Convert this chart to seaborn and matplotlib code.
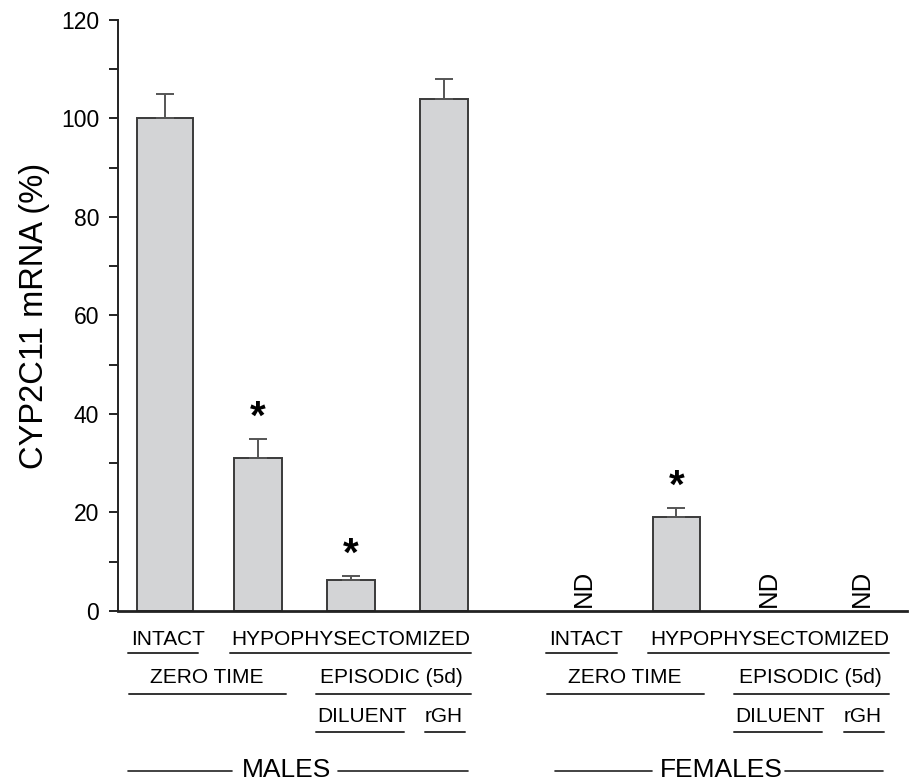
import numpy as np
import pandas as pd
import matplotlib
matplotlib.use('Agg')
import matplotlib.pyplot as plt
import seaborn as sns

# data (ND = not detected -> NaN)
groups = ['MALES', 'FEMALES']
treatments = ['INTACT', 'HYPOX ZERO TIME', 'HYPOX DILUENT', 'HYPOX rGH']
male_values = [100.0, 31.0, 6.2, 104.0]
male_errors = [5.0, 3.9, 1.0, 4.0]
female_values = [np.nan, 19.0, np.nan, np.nan]
female_errors = [np.nan, 2.0, np.nan, np.nan]
male_signif = [False, True, True, False]
female_signif = [False, True, False, False]

sub_labels = ['INTACT', 'HYPOPHYSECTOMIZED', 'ZERO TIME', 'EPISODIC (5d)', 'DILUENT', 'rGH']

sns.set_style('ticks')
plt.rcParams['font.family'] = ['Liberation Sans', 'DejaVu Sans']
plt.rcParams['text.color'] = 'black'
plt.rcParams['axes.labelcolor'] = 'black'
plt.rcParams['ytick.color'] = '#222222'
plt.rcParams['ytick.labelcolor'] = 'black'

# bar positions: 4 bars per sex, 1.5 bar gap between the groups
offsets = [0.0, 4.5]
pos = np.concatenate([np.arange(4) + o for o in offsets])
df = pd.DataFrame({
    'pos': pos,
    'value': male_values + female_values,
    'err': male_errors + female_errors,
    'sig': male_signif + female_signif,
})

fig = plt.figure(figsize=(9.14, 7.81), dpi=100)
ax = fig.add_axes([0.1291, 0.2177, 0.8632, 0.7567])

sns.barplot(data=df.dropna(subset=['value']), x='pos', y='value', native_scale=True,
            width=0.51, color='#d3d4d6', saturation=1, edgecolor='#3a3a3a',
            linewidth=1.4, errorbar=None, ax=ax)
# first bar drawn a bit wider in the original
first = ax.patches[0]
first.set_x(first.get_x() - 0.045)
first.set_width(first.get_width() + 0.09)

d = df.dropna(subset=['value'])
ax.errorbar(d['pos'], d['value'], yerr=[np.zeros(len(d)), d['err']], fmt='none',
            ecolor='#555555', elinewidth=1.4, capsize=6.5, capthick=1.4)

for _, r in df.iterrows():
    if np.isnan(r['value']):
        ax.text(r['pos'], 0.8, 'ND', rotation=90, ha='center', va='bottom', fontsize=18.5)
    elif r['sig']:
        ax.text(r['pos'], r['value'] + r['err'] + 0.4, '*', ha='center', va='bottom',
                fontsize=29, fontweight='bold')

ax.set_xlim(-0.505, 7.98)
ax.set_ylim(0, 120)
ax.set_yticks(np.arange(0, 121, 20))
ax.set_yticks(np.arange(10, 120, 20), minor=True)
ax.set_xticks([])
ax.set_xlabel('')
ax.set_ylabel('CYP2C11 mRNA (%)', fontsize=23.5, labelpad=8)
ax.tick_params(axis='y', which='both', length=6.5, width=1.4, labelsize=16.5, pad=7)
sns.despine(ax=ax)
ax.spines['left'].set_linewidth(1.4)
ax.spines['bottom'].set_linewidth(2.0)
ax.spines['left'].set_color('#222222')
ax.spines['bottom'].set_color('#222222')

# treatment labels below the axis (x relative to group start)
label_layout = [
    # text, text_x, baseline_y, line_x0, line_x1, line_y
    (sub_labels[0], 0.03, -6.9, -0.40, 0.36, -8.6),
    (sub_labels[1], 2.00, -6.9, 0.70, 3.29, -8.6),
    (sub_labels[2], 0.45, -14.7, -0.39, 1.30, -16.9),
    (sub_labels[3], 2.44, -14.7, 1.62, 3.29, -16.9),
    (sub_labels[4], 2.12, -22.5, 1.62, 2.57, -24.6),
    (sub_labels[5], 3.00, -22.5, 2.80, 3.23, -24.6),
]
group_layout = {
    'MALES': (1.31, (-0.40, 0.72), (1.86, 3.26)),
    'FEMALES': (1.48, (-0.31, 0.74), (2.17, 3.22)),
}
for g, o in zip(groups, offsets):
    for text, tx, ty, x0, x1, ly in label_layout:
        ax.text(o + tx, ty, text, ha='center', va='baseline', fontsize=15, clip_on=False)
        ax.plot([o + x0, o + x1], [ly, ly], color='#333333', lw=1.4, clip_on=False)
    tx, left, right = group_layout[g]
    ax.text(o + tx, -33.8, g, ha='center', va='baseline', fontsize=19, clip_on=False)
    for seg in (left, right):
        ax.plot([o + seg[0], o + seg[1]], [-32.5, -32.5], color='#222222', lw=1.2, clip_on=False)

ax.set_ylim(0, 120)
fig.savefig('out.png', dpi=100)
